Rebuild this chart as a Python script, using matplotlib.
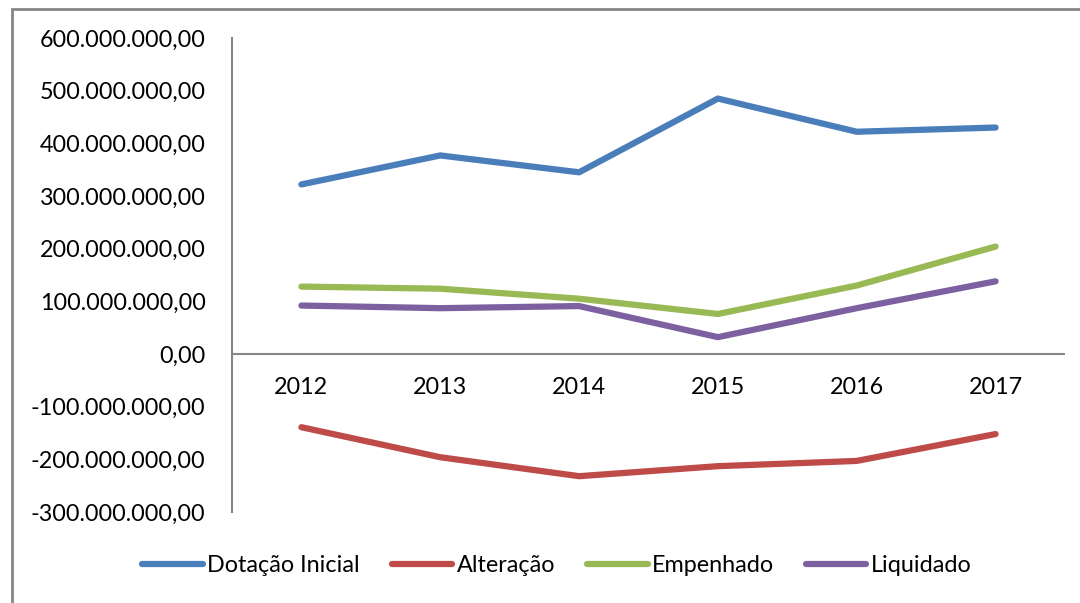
import matplotlib.pyplot as plt
from matplotlib.patches import Rectangle
from matplotlib.ticker import FuncFormatter

plt.rcParams['font.family'] = ['Lato', 'DejaVu Sans']

anos = ['2012', '2013', '2014', '2015', '2016', '2017']
dotacao_inicial = [322e6, 377e6, 345e6, 485e6, 422e6, 430e6]
alteracao = [-139e6, -196e6, -232e6, -213e6, -203e6, -152e6]
empenhado = [128e6, 124e6, 105e6, 76e6, 130e6, 204e6]
liquidado = [92e6, 87e6, 91e6, 32e6, 87e6, 138e6]

series = [
    ('Dotação Inicial', dotacao_inicial, '#4a7ebb'),
    ('Alteração', alteracao, '#be4b48'),
    ('Empenhado', empenhado, '#98b954'),
    ('Liquidado', liquidado, '#7d60a0'),
]

fig = plt.figure(figsize=(10.8, 6.03), dpi=100)
ax = fig.add_axes([232 / 1080, 1 - 512 / 603, (1065 - 232) / 1080, (512 - 38) / 603])

# borda do gráfico
fig.patches.append(Rectangle((12 / 1080, -0.1), 1.2, 1 - 9 / 603 + 0.1,
                             transform=fig.transFigure, fill=False,
                             edgecolor='#868686', linewidth=2))

x = range(len(anos))
for nome, vals, cor in series:
    ax.plot(x, vals, color=cor, linewidth=4.5, solid_capstyle='round', label=nome)

ax.set_xlim(-0.5, len(anos) - 0.5)
ax.set_ylim(-300e6, 600e6)
ax.set_yticks(range(-300000000, 600000001, 100000000))


def fmt(v, pos):
    s = f'{abs(v):,.2f}'.replace(',', 'X').replace('.', ',').replace('X', '.')
    return ('-' if v < 0 else '') + s


ax.yaxis.set_major_formatter(FuncFormatter(fmt))
ax.tick_params(axis='y', length=0, labelsize=16.8, pad=19)
ax.set_xticks([])
for i, a in enumerate(anos):
    ax.text(i, -64e6, a, ha='center', va='center', fontsize=16.8)

for s in ['top', 'right', 'bottom']:
    ax.spines[s].set_visible(False)
ax.spines['left'].set_color('#868686')
ax.spines['left'].set_linewidth(1.5)
ax.axhline(0, color='#868686', linewidth=1.5)

fig.legend(loc='center', bbox_to_anchor=(557 / 1080, 1 - 566 / 603), ncol=4,
           frameon=False, fontsize=16.8, handlelength=2.6, handletextpad=0.2,
           columnspacing=1.35)

fig.savefig('out.png', dpi=100)
